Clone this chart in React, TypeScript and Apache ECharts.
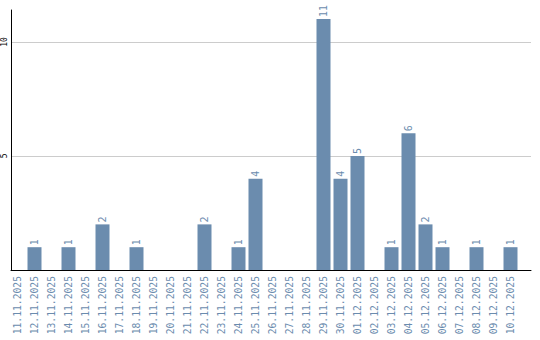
import React, { useEffect, useRef } from "react";
import * as echarts from "echarts";

const categories: string[] = [
  "11.11.2025", "12.11.2025", "13.11.2025", "14.11.2025", "15.11.2025",
  "16.11.2025", "17.11.2025", "18.11.2025", "19.11.2025", "20.11.2025",
  "21.11.2025", "22.11.2025", "23.11.2025", "24.11.2025", "25.11.2025",
  "26.11.2025", "27.11.2025", "28.11.2025", "29.11.2025", "30.11.2025",
  "01.12.2025", "02.12.2025", "03.12.2025", "04.12.2025", "05.12.2025",
  "06.12.2025", "07.12.2025", "08.12.2025", "09.12.2025", "10.12.2025",
];

const values: number[] = [
  0, 1, 0, 1, 0, 2, 0, 1, 0, 0,
  0, 2, 0, 1, 4, 0, 0, 0, 11, 4,
  5, 0, 1, 6, 2, 1, 0, 1, 0, 1,
];

const yMin = 0;
const yMax = 11.4;
const yInterval = 5;

const BLUE = "#6b8cae";
const MONO = "DejaVu Sans Mono, monospace";

export default function App() {
  const ref = useRef<HTMLDivElement>(null);
  useEffect(() => {
    document.body.style.margin = "0";
    if (!ref.current) return;
    const chart = echarts.init(ref.current, undefined, { renderer: "svg" });
    chart.setOption({
      animation: false,
      backgroundColor: "#ffffff",
      grid: [
        { left: 10, right: 9, top: 10, bottom: 70 },
        { left: 9, right: 21, top: 10, bottom: 70 },
      ],
      xAxis: [
        {
          type: "value",
          gridIndex: 0,
          min: 0,
          max: 1,
          axisLine: { show: true, lineStyle: { color: "#000", width: 1 } },
          axisTick: { show: false },
          axisLabel: { show: false },
          splitLine: { show: false },
        },
        {
          type: "category",
          gridIndex: 1,
          data: categories,
          axisLine: { show: false },
          axisTick: { show: false },
          axisLabel: {
            rotate: 90,
            interval: 0,
            color: BLUE,
            fontFamily: MONO,
            fontSize: 9.7,
            margin: 6,
          },
        },
      ],
      yAxis: [
        {
          type: "value",
          gridIndex: 0,
          min: yMin,
          max: yMax,
          interval: yInterval,
          axisLine: { show: true, lineStyle: { color: "#000", width: 1 } },
          axisTick: { show: false },
          axisLabel: {
            rotate: 90,
            color: "#000",
            fontFamily: MONO,
            fontSize: 8,
            margin: 3,
            showMinLabel: false,
            showMaxLabel: false,
          },
          splitLine: {
            show: true,
            showMinLine: false,
            showMaxLine: false,
            lineStyle: { color: "#cccccc", width: 1 },
          },
        },
        {
          type: "value",
          gridIndex: 1,
          min: yMin,
          max: yMax,
          show: false,
          splitLine: { show: false },
        },
      ],
      series: [
        {
          type: "bar",
          xAxisIndex: 1,
          yAxisIndex: 1,
          data: values,
          barWidth: 14,
          itemStyle: { color: BLUE },
          label: {
            show: true,
            position: "top",
            rotate: 90,
            align: "left",
            verticalAlign: "middle",
            distance: 2,
            color: BLUE,
            fontFamily: MONO,
            fontSize: 10,
            formatter: (p: any) => (p.value ? String(p.value) : ""),
          },
        },
      ],
    });
    return () => chart.dispose();
  }, []);
  return <div ref={ref} style={{ width: 540, height: 340 }} />;
}
